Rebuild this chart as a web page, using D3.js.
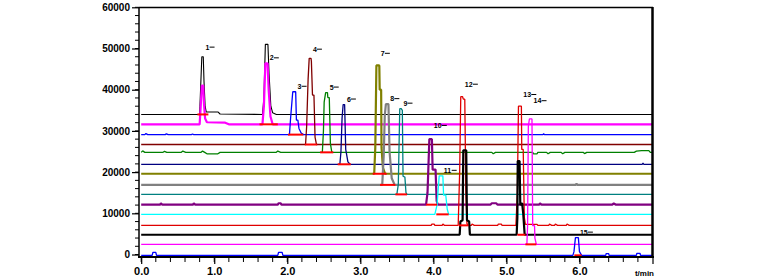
<!DOCTYPE html>
<html>
<head>
<meta charset="utf-8">
<script src="https://d3js.org/d3.v7.min.js"></script>
<style>
  body { margin: 0; background: #fff; }
  svg { display: block; font-family: 'Liberation Sans', Arial, sans-serif; }
</style>
</head>
<body>
<svg id="chart" width="757" height="279"></svg>
<script>
// retention time (min), signal
var trace1 = [[0,34000],[0.80,34000],[0.815,41000],[0.83,48000],[0.85,48000],[0.86,42000],[0.875,36000],[0.89,34600],[1.05,34600],[1.08,34100],[1.66,34000],[1.68,38000],[1.70,51000],[1.735,51000],[1.75,44000],[1.775,36000],[1.80,34400],[1.85,34000],[7,34000]];
var trace2 = [[0,31600],[0.80,31600],[0.815,36000],[0.83,41000],[0.85,41000],[0.86,36500],[0.875,33000],[0.90,32100],[1.15,32000],[1.20,31600],[1.66,31600],[1.68,36000],[1.70,46400],[1.73,46400],[1.745,40000],[1.77,33500],[1.80,31600],[7,31600]];
var trace3 = [[0,29100],[0.05,29100],[0.065,29350],[0.09,29100],[0.33,29100],[0.345,29300],[0.37,29100],[0.69,29100],[0.70,29250],[0.72,29100],[2.03,29100],[2.045,33000],[2.075,39500],[2.115,39500],[2.125,32600],[2.145,32600],[2.16,30600],[2.19,29500],[2.22,29100],[5.50,29100],[5.51,29300],[5.52,29100],[7,29100]];
var trace4 = [[0,26700],[2.25,26700],[2.265,31000],[2.285,42500],[2.30,47600],[2.325,47600],[2.33,46900],[2.345,38700],[2.365,38700],[2.38,28500],[2.40,26700],[7,26700]];
var trace5 = [[0,24800],[0.02,25150],[0.05,24800],[0.30,24800],[0.32,25050],[0.35,24800],[0.55,24800],[0.57,25100],[0.61,24800],[0.82,24800],[0.84,25100],[0.87,24800],[0.90,24450],[1.05,24450],[1.08,24800],[1.85,24800],[1.87,25100],[1.91,24800],[2.48,24800],[2.495,30000],[2.505,37000],[2.525,39300],[2.55,39300],[2.555,38100],[2.575,38100],[2.59,27000],[2.61,24800],[4.80,24800],[4.82,24450],[4.85,24800],[5.36,24800],[5.37,24450],[5.42,24450],[5.43,24800],[5.55,24800],[5.57,24450],[5.60,24800],[5.75,24800],[5.77,24450],[5.80,24800],[6.05,24800],[6.07,24500],[6.10,24800],[6.75,24800],[6.78,25100],[6.85,25200],[6.95,25200],[6.97,24800],[7,24800]];
var trace6 = [[0,21900],[2.72,21900],[2.735,25000],[2.75,33100],[2.765,36400],[2.785,36400],[2.80,25500],[2.83,22500],[2.86,21900],[6.86,21900],[6.87,22200],[6.88,21900],[7,21900]];
var trace7 = [[0,19600],[3.19,19600],[3.205,26000],[3.22,45900],[3.26,45900],[3.265,40000],[3.285,40000],[3.29,26000],[3.31,21000],[3.34,19600],[7,19600]];
var trace8 = [[0,16900],[3.30,16900],[3.32,24000],[3.335,33800],[3.35,36500],[3.385,36500],[3.40,25000],[3.43,18500],[3.47,16900],[5.95,16900],[5.96,17200],[5.97,16900],[7,16900]];
var trace9 = [[0,14600],[3.50,14600],[3.52,17000],[3.54,35400],[3.56,35400],[3.575,35000],[3.585,19000],[3.61,18800],[3.625,15000],[3.64,14600],[7,14600]];
var trace10 = [[0,12100],[0.26,12100],[0.27,12450],[0.29,12100],[0.71,12100],[0.72,12400],[0.74,12100],[1.87,12100],[1.88,12450],[1.91,12450],[1.92,12100],[3.90,12100],[3.92,15000],[3.945,28000],[3.98,28000],[3.99,20600],[4.03,20600],[4.045,13000],[4.06,12100],[4.78,12100],[4.80,12450],[4.86,12450],[4.88,12100],[5.45,12100],[5.46,12400],[5.48,12100],[6.45,12100],[6.47,12400],[6.50,12100],[7,12100]];
var trace11 = [[0,9750],[4.02,9750],[4.05,12000],[4.08,19100],[4.13,19100],[4.14,14400],[4.17,14400],[4.19,11000],[4.21,9750],[7,9750]];
var trace12 = [[0,7080],[3.97,7080],[3.98,7400],[4.01,7400],[4.02,7080],[4.12,7080],[4.13,7400],[4.15,7080],[4.34,7080],[4.36,20000],[4.375,38300],[4.40,38300],[4.41,37700],[4.43,37700],[4.445,15000],[4.46,7500],[4.48,7080],[4.52,7080],[4.53,7400],[4.56,7080],[4.88,7080],[4.89,7400],[4.93,7400],[4.94,7080],[5.13,7080],[5.15,15000],[5.165,36000],[5.205,36000],[5.21,25500],[5.23,25500],[5.245,9000],[5.26,7300],[5.42,7300],[5.43,7080],[5.58,7080],[5.59,7400],[5.62,7080],[5.66,7080],[5.67,7400],[5.70,7080],[5.82,7080],[5.83,7400],[5.86,7080],[7,7080]];
var trace13 = [[0,4800],[4.36,4800],[4.37,8000],[4.40,8300],[4.41,25300],[4.45,25300],[4.46,8300],[4.49,8000],[4.50,4800],[5.14,4800],[5.15,9000],[5.155,22700],[5.18,22700],[5.19,12000],[5.215,12500],[5.23,10000],[5.25,4800],[7,4800]];
var trace14 = [[0,2470],[5.28,2470],[5.29,7000],[5.30,31100],[5.315,32900],[5.35,32900],[5.36,7000],[5.385,7000],[5.39,4000],[5.41,2470],[7,2470]];
var trace15 = [[0,-200],[0.15,-200],[0.16,500],[0.20,500],[0.21,-200],[1.87,-200],[1.88,500],[1.93,500],[1.94,-200],[5.91,-200],[5.925,700],[5.945,4100],[5.985,4100],[6.0,700],[6.03,-200],[6.36,-200],[6.365,200],[6.40,200],[6.405,-200],[6.78,-200],[6.785,300],[6.83,300],[6.835,-200],[7,-200]];

// integration baselines: trace number, start, end
var baseTrace = [1, 2, 3, 4, 5, 6, 7, 8, 9, 10, 11, 12, 13, 14, 15];
var baseStart = [0.77, 1.62, 2.01, 2.24, 2.45, 2.69, 3.17, 3.27, 3.48, 3.90, 4.04, 4.35, 5.15, 5.26, 5.93];
var baseEnd   = [0.92, 1.87, 2.22, 2.41, 2.63, 2.87, 3.36, 3.48, 3.64, 4.05, 4.21, 4.48, 5.26, 5.41, 6.03];

// peak numbers and their apex
var peakNames = ["1","2","3","4","5","6","7","8","9","10","11","12","13","14","15"];
var peakTime  = [0.84, 1.72, 2.10, 2.31, 2.54, 2.775, 3.24, 3.37, 3.55, 3.965, 4.10, 4.39, 5.19, 5.33, 5.965];
var peakValue = [49000, 46400, 39500, 48500, 39300, 36400, 47500, 36500, 35400, 30000, 19100, 40000, 37500, 36000, 4100];

var yTicks = [0, 10000, 20000, 30000, 40000, 50000, 60000];
var xTicks = [0, 1, 2, 3, 4, 5, 6];
var xUnit = "t/min";

var traces = [trace1, trace2, trace3, trace4, trace5, trace6, trace7, trace8, trace9, trace10, trace11, trace12, trace13, trace14, trace15];
var colors = ["#000000","#ff00ff","#0000ff","#800000","#008000","#000080","#808000","#808080","#008080","#800080","#00ffff","#e00000","#000000","#ff00ff","#0000ff"];
var widths = [1.1, 2.2, 1.3, 1.3, 1.3, 1.3, 2.2, 2.2, 1.3, 2.2, 1.3, 1.3, 2.2, 1.3, 1.3];

var svg = d3.select("#chart");
var x = d3.scaleLinear().domain([-0.03, 7]).range([139, 652.5]);
var y = d3.scaleLinear().domain([-600, 60000]).range([257, 7.3]);

var line = d3.line()
    .x(function(d) { return x(d[0]); })
    .y(function(d) { return y(d[1]); });

svg.append("g").selectAll("path")
    .data(traces)
    .enter()
    .append("path")
    .attr("d", line)
    .attr("fill", "none")
    .attr("stroke", function(d, i) { return colors[i]; })
    .attr("stroke-width", function(d, i) { return widths[i]; })
    .attr("stroke-linejoin", "bevel");

svg.append("g").selectAll("line")
    .data(baseTrace)
    .enter()
    .append("line")
    .attr("x1", function(d, i) { return x(baseStart[i]); })
    .attr("x2", function(d, i) { return x(baseEnd[i]); })
    .attr("y1", function(d) { return y(traces[d - 1][0][1]); })
    .attr("y2", function(d) { return y(traces[d - 1][0][1]); })
    .attr("stroke", "#ff0000")
    .attr("stroke-width", 2);

var lab = svg.append("g").selectAll("g")
    .data(peakNames)
    .enter()
    .append("g")
    .attr("transform", function(d, i) {
        return "translate(" + (x(peakTime[i]) + 3) + "," + (y(peakValue[i]) - 3) + ")";
    });
lab.append("text")
    .text(function(d) { return d; })
    .attr("font-size", 7)
    .attr("font-weight", "bold");
lab.append("line")
    .attr("x1", function(d) { return d.length * 4; })
    .attr("x2", function(d) { return d.length * 4 + 5; })
    .attr("y1", -2.5)
    .attr("y2", -2.5)
    .attr("stroke", "#000")
    .attr("stroke-width", 1);

// minor ticks
svg.append("g").selectAll("line")
    .data(d3.range(0, 60001, 2000))
    .enter()
    .append("line")
    .attr("x1", 135).attr("x2", 139)
    .attr("y1", function(d) { return y(d); })
    .attr("y2", function(d) { return y(d); })
    .attr("stroke", "#000");
svg.append("g").selectAll("line")
    .data(d3.range(0, 35).map(function(i) { return i * 0.2; }))
    .enter()
    .append("line")
    .attr("x1", function(d) { return x(d); })
    .attr("x2", function(d) { return x(d); })
    .attr("y1", 258).attr("y2", 262)
    .attr("stroke", "#000");

var yAxis = svg.append("g")
    .attr("transform", "translate(139,0)")
    .call(d3.axisLeft(y).tickValues(yTicks).tickFormat(d3.format("d")).tickSize(7).tickPadding(2));
var xAxis = svg.append("g")
    .attr("transform", "translate(0,257)")
    .call(d3.axisBottom(x).tickValues(xTicks.concat([7])).tickFormat(function(d) { return d < 7 ? d3.format(".1f")(d) : ""; }).tickSize(7).tickPadding(3));
[yAxis, xAxis].forEach(function(a) {
    a.select(".domain").remove();
    a.selectAll("text").attr("font-weight", "bold").attr("fill", "#000").attr("font-family", "'Liberation Sans', Arial, sans-serif");
    a.selectAll("line").attr("stroke-width", 1.2);
});
yAxis.selectAll("text").attr("font-size", 10);
xAxis.selectAll("text").attr("font-size", 11);

svg.append("text")
    .attr("x", 654).attr("y", 276)
    .attr("text-anchor", "end")
    .attr("font-size", 8)
    .attr("font-weight", "bold")
    .text(xUnit);

// frame
svg.append("line").attr("x1", 139).attr("x2", 653).attr("y1", 7.5).attr("y2", 7.5).attr("stroke", "#000").attr("stroke-width", 1.5);
svg.append("line").attr("x1", 139).attr("x2", 139).attr("y1", 7).attr("y2", 258).attr("stroke", "#000").attr("stroke-width", 1.5);
svg.append("line").attr("x1", 652.5).attr("x2", 652.5).attr("y1", 7).attr("y2", 258).attr("stroke", "#000").attr("stroke-width", 2.5);
svg.append("line").attr("x1", 138).attr("x2", 654).attr("y1", 257).attr("y2", 257).attr("stroke", "#000").attr("stroke-width", 2);
</script>
</body>
</html>
